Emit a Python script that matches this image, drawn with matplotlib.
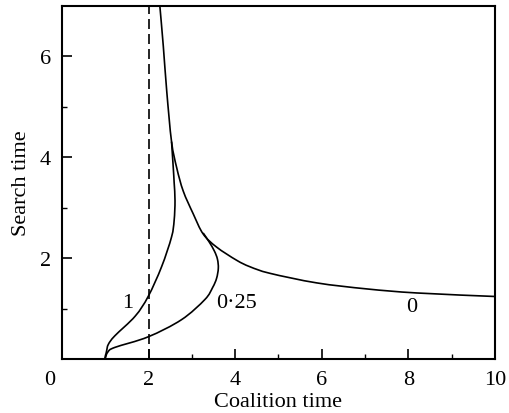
import matplotlib
matplotlib.use("Agg")
import matplotlib.pyplot as plt
from matplotlib.ticker import FixedLocator
from matplotlib.transforms import ScaledTranslation
from matplotlib.path import Path
from matplotlib.patches import PathPatch

# ---- data ----
curve0_x = [2.26, 2.34, 2.42, 2.53, 2.65, 2.80, 3.03, 3.26, 3.57, 4.03, 4.34, 4.80, 5.88, 7.04, 8.19, 10.00]
curve0_y = [7.00, 6.20, 5.30, 4.31, 3.79, 3.33, 2.88, 2.48, 2.22, 1.96, 1.83, 1.70, 1.51, 1.39, 1.31, 1.24]

curve1_x = [0.99, 1.03, 1.07, 1.22, 1.69, 1.99, 2.30, 2.53, 2.59, 2.61, 2.59, 2.57, 2.53]
curve1_y = [0.00, 0.16, 0.29, 0.46, 0.85, 1.24, 1.83, 2.42, 2.75, 3.14, 3.50, 3.79, 4.31]

curve025_x = [0.99, 1.06, 1.22, 1.99, 2.76, 3.30, 3.48, 3.57, 3.61, 3.59, 3.52, 3.40, 3.26]
curve025_y = [0.00, 0.14, 0.23, 0.44, 0.78, 1.18, 1.42, 1.60, 1.80, 1.98, 2.14, 2.32, 2.50]

dashed_x = 2.0

labels = ["1", "0\u00b725", "0"]
label_x = [1.52, 4.02, 8.08]
label_y = [1.12, 1.12, 1.04]

x_major = [0, 2, 4, 6, 8, 10]
y_major = [2, 4, 6]
x_minor = [1, 3, 5, 7, 9]
y_minor = [1, 3, 5]


def smooth_path(xs, ys):
    """Catmull-Rom spline through the points, drawn as cubic Bezier segments."""
    pts = list(zip(xs, ys))
    n = len(pts)
    verts = [pts[0]]
    codes = [Path.MOVETO]
    for i in range(n - 1):
        p0 = pts[i - 1] if i > 0 else pts[i]
        p1 = pts[i]
        p2 = pts[i + 1]
        p3 = pts[i + 2] if i + 2 < n else pts[i + 1]
        c1 = (p1[0] + (p2[0] - p0[0]) / 6, p1[1] + (p2[1] - p0[1]) / 6)
        c2 = (p2[0] - (p3[0] - p1[0]) / 6, p2[1] - (p3[1] - p1[1]) / 6)
        verts += [c1, c2, p2]
        codes += [Path.CURVE4] * 3
    return Path(verts, codes)


# ---- figure ----
plt.rcParams['font.family'] = ['Liberation Serif', 'DejaVu Serif']
fs = 16
fig = plt.figure(figsize=(5.09, 4.14), dpi=100)
ax = fig.add_axes([0.1218, 0.1304, 0.8507, 0.8526])

lw = 1.2
for xs, ys in [(curve0_x, curve0_y), (curve1_x, curve1_y), (curve025_x, curve025_y)]:
    ax.add_patch(PathPatch(smooth_path(xs, ys), facecolor='none', edgecolor='black',
                           lw=lw, joinstyle='round', capstyle='butt'))
ax.axvline(dashed_x, color='black', lw=1.2, linestyle=(0, (6, 3)))

for t, x, y in zip(labels, label_x, label_y):
    ax.text(x, y, t, fontsize=fs, ha='center', va='center')

ax.set_xlim(0, 10)
ax.set_ylim(0, 7)
ax.xaxis.set_major_locator(FixedLocator(x_major))
ax.yaxis.set_major_locator(FixedLocator(y_major))
ax.xaxis.set_minor_locator(FixedLocator(x_minor))
ax.yaxis.set_minor_locator(FixedLocator(y_minor))
ax.set_xticklabels([str(v) for v in x_major])
ax.set_yticklabels([str(v) for v in y_major])

ax.tick_params(which='major', direction='in', length=7, width=1.2, labelsize=fs, pad=8)
ax.tick_params(which='minor', direction='in', length=3.5, width=1.0)
for s in ax.spines.values():
    s.set_linewidth(1.5)

lab0 = ax.get_xticklabels()[0]
lab0.set_transform(lab0.get_transform() + ScaledTranslation(-12 / 100, 0, fig.dpi_scale_trans))

ax.set_xlabel("Coalition time", fontsize=fs, labelpad=2)
ax.set_ylabel("Search time", fontsize=fs, labelpad=6)

fig.savefig("out.png", dpi=100)
